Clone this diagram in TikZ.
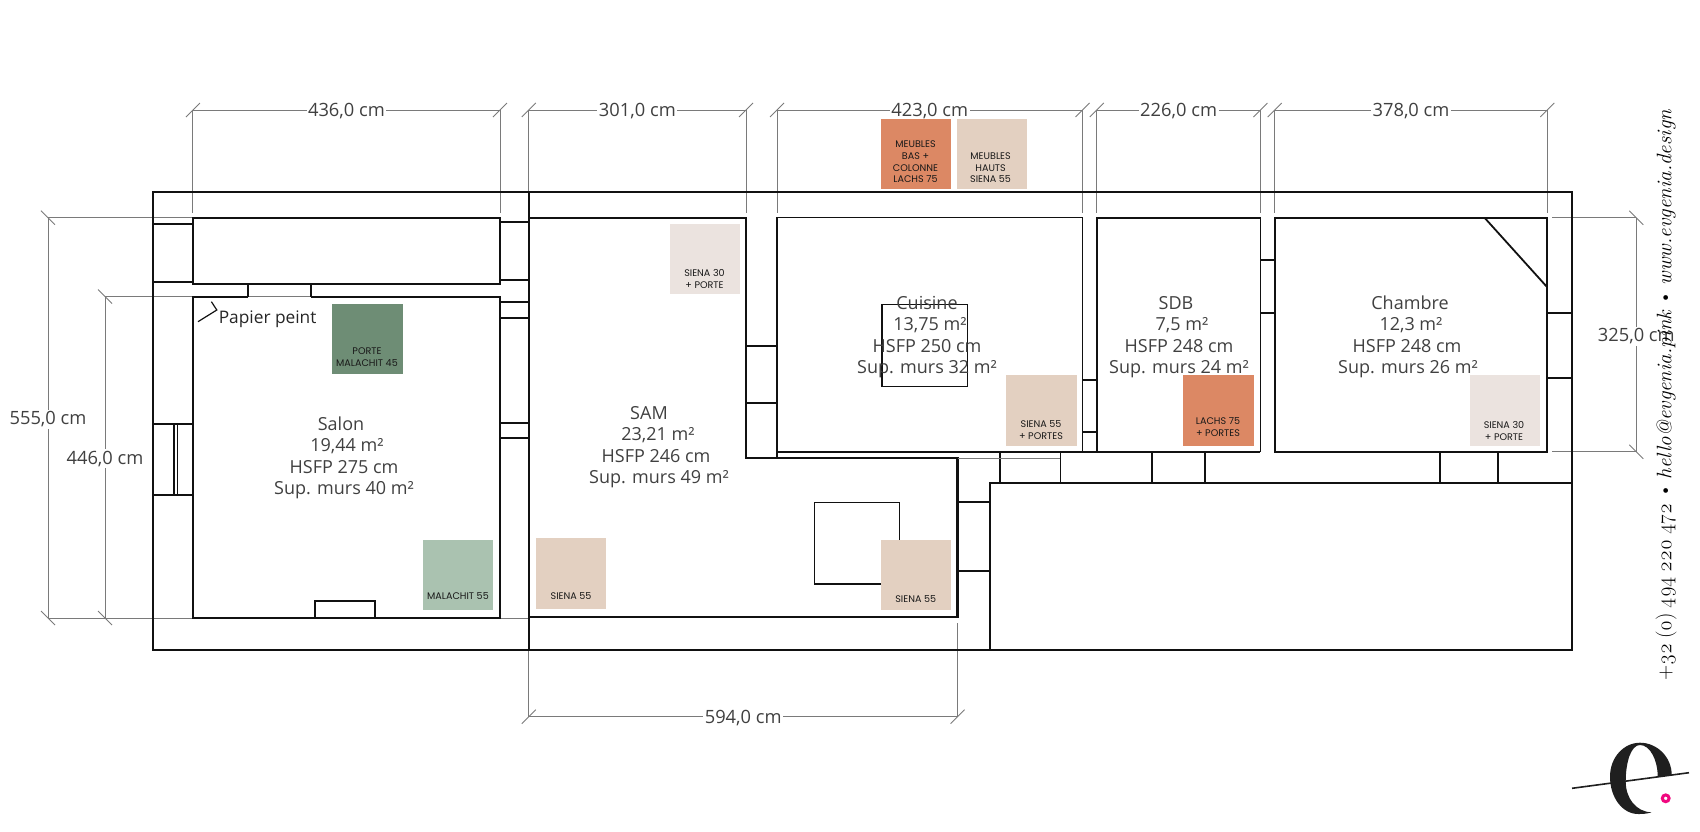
\documentclass[tikz,border=0pt]{standalone}
\usepackage{fontspec}
\setmainfont{Open Sans}
\newfontfamily\swatchfont{Poppins}
\newfontfamily\contactfont[Numbers=OldStyle]{Latin Modern Roman}
\definecolor{wallink}{HTML}{111111}
\definecolor{dimgray}{HTML}{7A7A7A}
\definecolor{labelink}{HTML}{404040}
\definecolor{sienafif}{HTML}{E3D0C1}
\definecolor{sienathirty}{HTML}{EBE3DF}
\definecolor{lachs}{HTML}{DC8864}
\definecolor{malafour}{HTML}{6E8D75}
\definecolor{malafif}{HTML}{AAC2B0}
\definecolor{logopink}{HTML}{F0087F}
\tikzset{
  wall/.style={draw=wallink,line width=2.1pt},
  thinwall/.style={draw=wallink,line width=1.8pt},
  dimline/.style={draw=dimgray,line width=0.9pt},
  dimlabel/.style={fill=white,text=labelink,inner sep=1.5pt,yshift=-1.5pt,font=\fontsize{18.3}{18}\selectfont},
  roomlabel/.style={text=labelink,align=center,inner sep=0pt,font=\fontsize{18}{21.5}\selectfont},
  swatchlabel/.style={text=black!90,align=center,inner sep=0pt,font=\swatchfont\fontsize{9.6}{11.7}\selectfont},
}
\begin{document}
\begin{tikzpicture}[x=1pt,y=-1pt]
        \useasboundingbox (0,0) rectangle (1700,831);
        % dimensions along the top and bottom
        \foreach \nm/\a/\b/\y/\t in {a/192.9/500/110/{436,0 cm},b/528.8/746/110/{301,0 cm},c/777/1082.5/110/{423,0 cm},d/1096.8/1260.4/110/{226,0 cm},e/1274.7/1547.3/110/{378,0 cm}}{
          \draw[dimline] (\a,\y) -- (\a,213);
          \draw[dimline] (\b,\y) -- (\b,213);
          \draw[dimline] (\a-7,\y+7) -- (\a+7,\y-7);
          \draw[dimline] (\b-7,\y+7) -- (\b+7,\y-7);
          \draw[dimline] (\a,\y) -- (\b,\y) node[midway,dimlabel] (dim\nm) {\t};
        }
        \draw[dimline] (528.8,650) -- (528.8,716.7);
        \draw[dimline] (957.6,623) -- (957.6,716.7);
        \draw[dimline] (521.8,723.7) -- (535.8,709.7);
        \draw[dimline] (950.6,723.7) -- (964.6,709.7);
        \draw[dimline] (528.8,716.7) -- (957.6,716.7) node[midway,dimlabel] (dimf) {594,0 cm};
        % dimensions on the left and right
        \draw[dimline] (48,217.7) -- (192.9,217.7);
        \draw[dimline] (105,296.5) -- (192.9,296.5);
        \draw[dimline] (48,618) -- (528.8,618);
        \draw[dimline] (41,210.7) -- (55,224.7);
        \draw[dimline] (41,611) -- (55,625);
        \draw[dimline] (98,289.5) -- (112,303.5);
        \draw[dimline] (98,611) -- (112,625);
        \draw[dimline] (48,217.7) -- (48,618) node[midway,dimlabel] (dimg) {555,0 cm};
        \draw[dimline] (105,296.5) -- (105,618) node[midway,dimlabel] (dimh) {446,0 cm};
        \draw[dimline] (1552,217.7) -- (1636.3,217.7);
        \draw[dimline] (1552,451.7) -- (1636.3,451.7);
        \draw[dimline] (1629.3,210.7) -- (1643.3,224.7);
        \draw[dimline] (1629.3,444.7) -- (1643.3,458.7);
        \draw[dimline] (1636.3,217.7) -- (1636.3,451.7) node[midway,dimlabel] (dimi) {325,0 cm};
        % outer walls
        \draw[wall] (153.2,192.3) rectangle (1572.2,650.3);
        \draw[wall] (528.8,192.3) -- (528.8,650.3);
        % salon and the room above it
        \draw[thinwall] (192.9,217.7) rectangle (500,284);
        \draw[wall] (248,296.7) -- (192.9,296.7) -- (192.9,618) -- (500,618) -- (500,296.7) -- (311,296.7);
        \draw[dimline] (248,296.7) -- (311,296.7);
        \draw[thinwall] (248,284) -- (248,296.7);
        \draw[thinwall] (311,284) -- (311,296.7);
        \draw[wall] (315,618) -- (315,600.7) -- (374.6,600.7) -- (374.6,618);
        \foreach \y in {224.3,281.7,424.3,495.3}
        \draw[thinwall] (153.2,\y) -- (192.9,\y);
        \foreach \x in {174,177.5}
        \draw[thinwall] (\x,424.3) -- (\x,495.3);
        \foreach \y in {222.3,280,302.3,317.7,422.7,437.7}
        \draw[wall] (500,\y) -- (528.8,\y);
        % sam
        \draw[wall] (528.8,217.7) -- (746,217.7) -- (746,457.7) -- (957.5,457.7) -- (957.5,617.3) -- (528.8,617.3);
        \draw[thinwall,line width=1.4pt] (814.6,502.3) rectangle (899.6,584);
        \foreach \y in {346,403.3}
        \draw[thinwall] (746,\y) -- (777,\y);
        % cuisine, sdb, chambre
        \draw[thinwall,line width=1.5pt] (777,457.7) -- (777,217.7) -- (1082.5,217.7) -- (1082.5,451.7);
        \draw[thinwall] (777,451.7) -- (1260.4,451.7);
        \draw[thinwall,line width=1.5pt] (882,304.3) rectangle (967.7,386.3);
        \foreach \y in {380,432.3}
        \draw[thinwall] (1082.5,\y) -- (1096.8,\y);
        \draw[thinwall] (1096.8,451.7) -- (1096.8,217.7) -- (1260.4,217.7) -- (1260.4,451.7);
        \foreach \y in {260,312.7}
        \draw[thinwall] (1260.4,\y) -- (1274.7,\y);
        \draw[thinwall] (1274.7,217.7) rectangle (1547.3,451.7);
        \draw[thinwall] (1484.5,217.7) -- (1547.3,287.3);
        \foreach \y in {312.7,378.3}
        \draw[thinwall] (1547.3,\y) -- (1572.2,\y);
        % corridor and the room below
        \draw[thinwall] (990,650.3) -- (990,483) -- (1572.2,483);
        \foreach \y in {502.3,571.3}
        \draw[thinwall] (957.5,\y) -- (990,\y);
        \foreach \x in {999.7,1060.4,1151.8,1205.3,1439.6,1497.6}
        \draw[thinwall] (\x,451.7) -- (\x,483);
        \draw[dimline] (957.5,458) -- (1060.4,458);
        % room labels
        \node[roomlabel] (salon) at (344,458) {\hspace*{-6pt}Salon\\\hspace*{6pt}19,44 m²\\HSFP 275 cm\\Sup. murs 40 m²};
        \node[roomlabel] (sam) at (656,447) {\hspace*{-14pt}SAM\\\hspace*{4pt}23,21 m²\\HSFP 246 cm\\\hspace*{6pt}Sup. murs 49 m²};
        \node[roomlabel] (cuisine) at (927,337) {Cuisine\\\hspace*{6pt}13,75 m²\\HSFP 250 cm\\Sup. murs 32 m²};
        \node[roomlabel] (sdb) at (1179,337) {\hspace*{-6pt}SDB\\\hspace*{6pt}7,5 m²\\HSFP 248 cm\\Sup. murs 24 m²};
        \node[roomlabel] (chambre) at (1407,337) {\hspace*{6pt}Chambre\\\hspace*{8pt}12,3 m²\\HSFP 248 cm\\\hspace*{2pt}Sup. murs 26 m²};
        \node[anchor=base west,inner sep=0pt,text=black!85,font=\fontsize{17.3}{18}\selectfont] (papier) at (218.6,323) {Papier peint};
        \draw[thinwall,line width=1.2pt] (198,321.7) -- (216.8,310) -- (211.4,301.7);
        % paint swatches
        \foreach \nm/\xa/\ya/\xb/\yb/\c/\tx/\ty/\t in {
          porte/332/304/402.5/374.3/malafour/367/357/{PORTE\\MALACHIT 45},
          mala/423/539.7/493/609.7/malafif/458/595.7/{MALACHIT 55},
          bas/880.7/119/951/189.3/lachs/915.5/161.8/{MEUBLES\\BAS +\\COLONNE\\LACHS 75},
          hauts/956.5/119/1026.8/189.3/sienafif/990.6/167.7/{MEUBLES\\HAUTS\\SIENA 55},
          sienaa/669.5/224/740/294/sienathirty/704.5/279.2/{SIENA 30\\+ PORTE},
          sienab/1006/375.3/1076.8/445.7/sienafif/1041/429.9/{SIENA 55\\+ PORTES},
          lachsb/1182.9/375.3/1253.5/445.7/lachs/1218/427.2/{LACHS 75\\+ PORTES},
          sienac/1469.8/375.3/1540/445.7/sienathirty/1504/430.9/{SIENA 30\\+ PORTE},
          sienad/536/538.3/606.4/609/sienafif/571/596.3/{SIENA 55},
          sienae/880.7/540.3/951/610.3/sienafif/915.7/599/{SIENA 55}}{
          \fill[\c] (\xa,\ya) rectangle (\xb,\yb);
          \node[swatchlabel] (\nm) at (\tx,\ty) {\t};
        }
        % contact line and logo
        \node[rotate=90,inner sep=0pt,text=black,font=\contactfont\fontsize{21}{21}\selectfont] (contact) at (1666,395) {\spaceskip=0.22em\relax +32 (0) 494 220 472 \textbullet{} \textit{hello@evgenia.pink} \textbullet{} \textit{www.evgenia.design}};
        \fill[black!88] (1651.7,812.3) .. controls (1646,814) and (1642,814) .. (1638.3,814) .. controls (1622,814) and (1610,797) .. (1610,776.7) .. controls (1610,757) and (1624,742.7) .. (1640,742.7) .. controls (1657,742.7) and (1671.7,757) .. (1671.7,775) -- (1657.7,776.5) .. controls (1657.7,760) and (1650,745) .. (1640,745) .. controls (1631,745) and (1625.7,762) .. (1625.7,781.7) .. controls (1625.7,798) and (1636,812) .. (1651.7,812.3) -- cycle;
        \draw[black!88,line width=1.6pt] (1572,788.3) -- (1689,772.7);
        \draw[logopink,line width=3pt,fill=white] (1665.7,798.3) circle (3.4);
    \end{tikzpicture}
\end{document}
